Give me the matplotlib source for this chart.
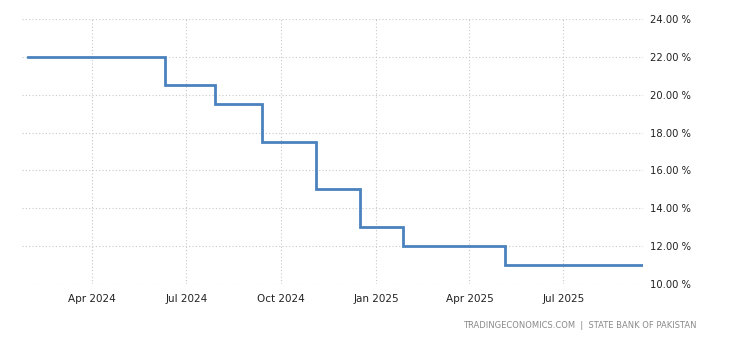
import pandas as pd
import numpy as np
import matplotlib
matplotlib.use("Agg")
import matplotlib.pyplot as plt
import matplotlib.dates as mdates
from matplotlib.ticker import FuncFormatter

# Policy rate decisions (step changes)
dates = pd.to_datetime([
    "2024-01-30", "2024-06-10", "2024-07-29", "2024-09-12", "2024-11-04",
    "2024-12-16", "2025-01-27", "2025-05-05", "2025-09-15",
])
rates = [22.0, 20.5, 19.5, 17.5, 15.0, 13.0, 12.0, 11.0, 11.0]

tick_dates = pd.to_datetime(["2024-04-01", "2024-07-01", "2024-10-01",
                             "2025-01-01", "2025-04-01", "2025-07-01"])
y_ticks = [10, 12, 14, 16, 18, 20, 22, 24]

fig = plt.figure(figsize=(7.3, 3.4), dpi=100)
ax = fig.add_axes([22 / 730, 1 - 284 / 340, 621 / 730, 265 / 340])

ax.step(dates, rates, where="post", color="#4a82bd", linewidth=2.0,
        solid_joinstyle="miter")

ax.set_xlim(pd.Timestamp("2024-01-24"), pd.Timestamp("2025-09-16"))
ax.set_ylim(10, 24)
ax.set_xticks(tick_dates)
ax.xaxis.set_major_formatter(mdates.DateFormatter("%b %Y"))
ax.set_yticks(y_ticks)
ax.yaxis.set_major_formatter(FuncFormatter(lambda v, p: f"{v:.2f} %"))
ax.yaxis.tick_right()

ax.grid(True, color="#c8c8c8", linestyle=(0, (1, 2)), linewidth=0.8)
ax.set_axisbelow(True)
for s in ax.spines.values():
    s.set_visible(False)

ax.tick_params(axis="x", length=0, pad=7, labelsize=7.5, labelcolor="#222222")
ax.tick_params(axis="y", length=0, pad=5, labelsize=7.2, labelcolor="#222222")

fig.text(697 / 730, 1 - 325 / 340, "TRADINGECONOMICS.COM  |  STATE BANK OF PAKISTAN",
         ha="right", va="center", fontsize=6, color="#8a8a8a")

fig.savefig("out.png", dpi=100)
